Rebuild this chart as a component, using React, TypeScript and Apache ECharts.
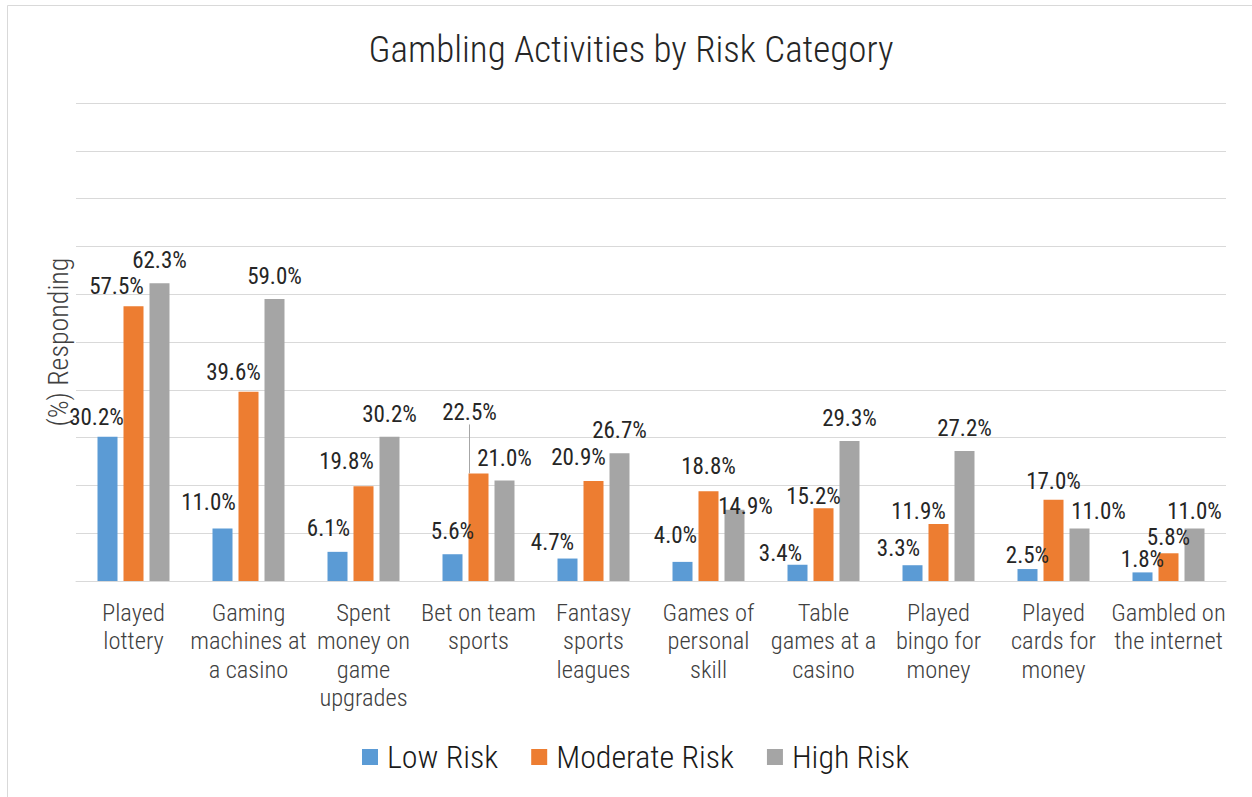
import React, { useEffect, useRef } from "react";
import * as echarts from "echarts";

const chartTitle = "Gambling Activities by Risk Category";
const yAxisName = "(%) Responding";
const categories = [
  "Played\nlottery",
  "Gaming\nmachines at\na casino",
  "Spent\nmoney on\ngame\nupgrades",
  "Bet on team\nsports",
  "Fantasy\nsports\nleagues",
  "Games of\npersonal\nskill",
  "Table\ngames at a\ncasino",
  "Played\nbingo for\nmoney",
  "Played\ncards for\nmoney",
  "Gambled on\nthe internet",
];
const seriesNames = ["Low Risk", "Moderate Risk", "High Risk"];
const lowRisk = [30.2, 11.0, 6.1, 5.6, 4.7, 4.0, 3.4, 3.3, 2.5, 1.8];
const moderateRisk = [57.5, 39.6, 19.8, 22.5, 20.9, 18.8, 15.2, 11.9, 17.0, 5.8];
const highRisk = [62.3, 59.0, 30.2, 21.0, 26.7, 14.9, 29.3, 27.2, 11.0, 11.0];
const yMin = 0;
const yMax = 100;
const yInterval = 10;

// label nudges (dx, dy) in pixels, per series, to match the manual placement
const lowOffsets = [[-11, 3], [-14, -3], [-9, -1], [0, 0], [-15, 6], [-7, -4], [-17, 11], [-14, 6], [0, 9], [0, 10]];
const modOffsets = [[-17, 3], [-15, 3], [-17, -2], [-9, -38], [-15, -1], [0, -2], [-10, 11], [-20, 10], [0, 4], [0, 7]];
const highOffsets = [[0, 0], [0, 0], [0, 0], [0, 0], [0, 0], [11, 19], [0, 0], [0, 0], [19, 6], [0, 6]];
const leaderLines = [[], [3], []];

const colors = ["#5B9BD5", "#ED7D31", "#A5A5A5"];
const FONT = '"Roboto Condensed", Roboto, sans-serif';

export default function App() {
  const ref = useRef<HTMLDivElement>(null);
  useEffect(() => {
    const chart = echarts.init(ref.current!, null, { renderer: "svg" });
    const values = [lowRisk, moderateRisk, highRisk];
    const offsets = [lowOffsets, modOffsets, highOffsets];
    chart.setOption({
      animation: false,
      color: colors,
      textStyle: { fontFamily: FONT },
      title: {
        text: chartTitle,
        left: 626,
        textAlign: "center",
        top: 26,
        textStyle: { fontFamily: FONT, fontWeight: 300, fontSize: 37, color: "#262626" },
      },
      graphic: [
        {
          type: "rect",
          silent: true,
          z: -10,
          shape: { x: 7.5, y: 5.5, width: 1400, height: 1000 },
          style: { fill: "none", stroke: "#D9D9D9", lineWidth: 1 },
        },
      ],
      legend: {
        data: seriesNames,
        left: 357,
        top: 736,
        icon: "rect",
        itemWidth: 16,
        itemHeight: 16,
        itemGap: 33,
        textStyle: { fontFamily: FONT, fontWeight: 300, fontSize: 32, color: "#1a1a1a", padding: [0, 0, 0, 4] },
      },
      grid: { left: 76, right: 26, top: 103, bottom: 216 },
      xAxis: {
        type: "category",
        data: categories,
        axisLine: { lineStyle: { color: "#D9D9D9", width: 1 } },
        axisTick: { show: false },
        axisLabel: {
          interval: 0,
          margin: 17,
          fontFamily: FONT,
          fontWeight: 300,
          fontSize: 24.5,
          lineHeight: 28.5,
          color: "#404040",
          align: "center",
        },
      },
      yAxis: {
        type: "value",
        min: yMin,
        max: yMax,
        interval: yInterval,
        name: yAxisName,
        nameLocation: "middle",
        nameRotate: 90,
        nameGap: 4,
        nameTextStyle: { fontFamily: FONT, fontWeight: 300, fontSize: 28, color: "#404040" },
        axisLabel: { show: false },
        axisLine: { show: false },
        axisTick: { show: false },
        splitLine: { lineStyle: { color: "#D9D9D9", width: 1 } },
      },
      series: seriesNames.map((name, si) => ({
        name,
        type: "bar",
        barWidth: 20,
        barGap: "30%",
        data: values[si].map((v, di) =>
          leaderLines[si].includes(di)
            ? { value: v, labelLine: { show: true, lineStyle: { color: "#A6A6A6", width: 1 } } }
            : v
        ),
        label: {
          show: true,
          position: "top",
          distance: 11,
          fontFamily: FONT,
          fontWeight: 400,
          fontSize: 23,
          color: "#262626",
          formatter: (p: any) => Number(p.value).toFixed(1) + "%",
        },
        labelLayout: (p: any) => ({ dx: offsets[si][p.dataIndex][0], dy: offsets[si][p.dataIndex][1] }),
      })),
    });
    return () => chart.dispose();
  }, []);
  return <div ref={ref} style={{ position: "absolute", left: 0, top: 0, width: 1252, height: 797 }} />;
}
